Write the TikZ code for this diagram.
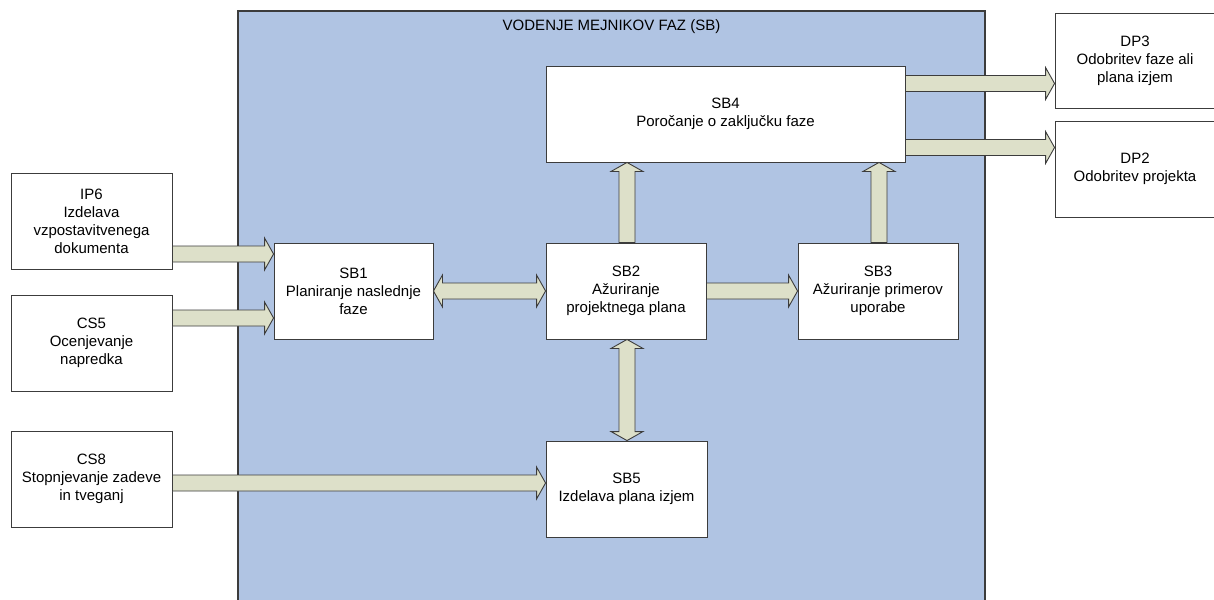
\documentclass[tikz,border=0pt]{standalone}
\usepackage{fontspec}
\setmainfont{Liberation Sans}
\usetikzlibrary{calc}

\definecolor{panelblue}{RGB}{176,196,227}
\definecolor{arrowfill}{RGB}{221,224,201}
\definecolor{edgegray}{RGB}{60,60,60}

\tikzset{
  procbox/.style={draw=edgegray, line width=0.9pt, fill=white, align=center,
    inner sep=0pt, font=\fontsize{15}{18}\selectfont},
  blockarrow/.style={draw=edgegray, line width=0.9pt, fill=arrowfill, line join=miter},
}

% right-pointing block arrow from node #1 to node #2 at height #3
\newcommand{\rarrow}[3]{%
  \draw[blockarrow] let \p1=(#1.east), \p2=(#2.west), \p3=(0,#3) in
    (\x1,\y3+8pt) -- (\x2-9pt,\y3+8pt) -- (\x2-9pt,\y3+16pt) -- (\x2,\y3)
    -- (\x2-9pt,\y3-16pt) -- (\x2-9pt,\y3-8pt) -- (\x1,\y3-8pt) -- cycle;}
% two-headed horizontal block arrow between node #1 and node #2
\newcommand{\lrarrow}[3]{%
  \draw[blockarrow] let \p1=(#1.east), \p2=(#2.west), \p3=(0,#3) in
    (\x1,\y3) -- (\x1+9pt,\y3+16pt) -- (\x1+9pt,\y3+8pt) -- (\x2-9pt,\y3+8pt)
    -- (\x2-9pt,\y3+16pt) -- (\x2,\y3) -- (\x2-9pt,\y3-16pt) -- (\x2-9pt,\y3-8pt)
    -- (\x1+9pt,\y3-8pt) -- (\x1+9pt,\y3-16pt) -- cycle;}
% upward block arrow from node #1 to node #2 at abscissa #3
\newcommand{\uarrow}[3]{%
  \draw[blockarrow] let \p1=(#1.north), \p2=(#2.south), \p3=(#3,0) in
    (\x3-8pt,\y1) -- (\x3-8pt,\y2-9pt) -- (\x3-16pt,\y2-9pt) -- (\x3,\y2)
    -- (\x3+16pt,\y2-9pt) -- (\x3+8pt,\y2-9pt) -- (\x3+8pt,\y1) -- cycle;}
% two-headed vertical block arrow between node #1 (above) and node #2 (below)
\newcommand{\udarrow}[3]{%
  \draw[blockarrow] let \p1=(#1.south), \p2=(#2.north), \p3=(#3,0) in
    (\x3,\y1) -- (\x3+16pt,\y1-9pt) -- (\x3+8pt,\y1-9pt) -- (\x3+8pt,\y2+9pt)
    -- (\x3+16pt,\y2+9pt) -- (\x3,\y2) -- (\x3-16pt,\y2+9pt) -- (\x3-8pt,\y2+9pt)
    -- (\x3-8pt,\y1-9pt) -- (\x3-16pt,\y1-9pt) -- cycle;}

\begin{document}
\begin{tikzpicture}[x=1pt, y=-1pt]
  \useasboundingbox (0,0) rectangle (1214,599);
  \clip (0,0) rectangle (1214,599);
  \fill[white] (0,0) rectangle (1214,599);

  % phase panel
  \draw[edgegray, line width=1.2pt, fill=panelblue] (238,11) rectangle (985,620);
  \node[font=\fontsize{15}{18}\selectfont] (title) at (611.5,27) {VODENJE MEJNIKOV FAZ (SB)};

  % inputs
  \node[procbox, minimum width=161pt, minimum height=96pt] (ip6) at (91.5,221)
    {IP6\\Izdelava\\vzpostavitvenega\\dokumenta};
  \node[procbox, minimum width=161pt, minimum height=96pt] (cs5) at (91.5,343)
    {CS5\\Ocenjevanje\\napredka};
  \node[procbox, minimum width=161pt, minimum height=96pt] (cs8) at (91.5,479)
    {CS8\\Stopnjevanje zadeve\\in tveganj};

  % sub-processes
  \node[procbox, minimum width=159pt, minimum height=96pt] (sb1) at (353.5,291)
    {SB1\\Planiranje naslednje\\faze};
  \node[procbox, minimum width=160pt, minimum height=96pt] (sb2) at (626,291)
    {SB2\\Ažuriranje\\projektnega plana};
  \node[procbox, minimum width=160pt, minimum height=96pt] (sb3) at (878,291)
    {SB3\\Ažuriranje primerov\\uporabe};
  \node[procbox, minimum width=359pt, minimum height=96pt] (sb4) at (725.5,114)
    {SB4\\Poročanje o zaključku faze};
  \node[procbox, minimum width=161pt, minimum height=96pt] (sb5) at (626.5,489)
    {SB5\\Izdelava plana izjem};

  % outputs
  \node[procbox, minimum width=160pt, minimum height=95pt] (dp3) at (1135,60.5)
    {DP3\\Odobritev faze ali\\plana izjem};
  \node[procbox, minimum width=160pt, minimum height=96pt] (dp2) at (1135,169)
    {DP2\\Odobritev projekta};

  % flows
  \rarrow{ip6}{sb1}{254}
  \rarrow{cs5}{sb1}{318}
  \rarrow{cs8}{sb5}{483}
  \lrarrow{sb1}{sb2}{291}
  \rarrow{sb2}{sb3}{291}
  \uarrow{sb2}{sb4}{627}
  \uarrow{sb3}{sb4}{879}
  \udarrow{sb2}{sb5}{627}
  \rarrow{sb4}{dp3}{83.5}
  \rarrow{sb4}{dp2}{147.5}
\end{tikzpicture}
\end{document}
